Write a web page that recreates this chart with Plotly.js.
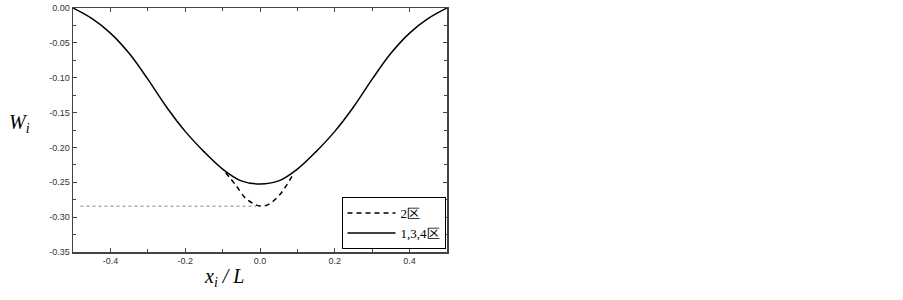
<!DOCTYPE html>
<html>
<head>
<meta charset="utf-8">
<script src="https://cdn.plot.ly/plotly-3.0.1.min.js"></script>
<style>body{margin:0;background:#fff}#chart{width:903px;height:300px}</style>
</head>
<body>
<div id="chart"></div>
<script>
// Solid curve (regions 1,3,4)
const solidX = [-0.5, -0.45, -0.4, -0.35, -0.3, -0.25, -0.2, -0.15, -0.1, -0.05, 0, 0.05, 0.1, 0.15, 0.2, 0.25, 0.3, 0.35, 0.4, 0.45, 0.5];
const solidW = [0, -0.015, -0.036, -0.065, -0.102, -0.142, -0.177, -0.206, -0.231, -0.248, -0.2524, -0.248, -0.231, -0.206, -0.177, -0.142, -0.102, -0.065, -0.036, -0.015, 0];
// Dashed curve (region 2)
const dashX = [-0.092, -0.065, -0.04, -0.02, 0, 0.022, 0.054, 0.088];
const dashW = [-0.236, -0.254, -0.272, -0.280, -0.284, -0.282, -0.267, -0.239];
// Dotted reference line
const dotX = [-0.48, -0.01];
const dotW = [-0.2843, -0.2843];
// Labels
const legendNames = ["2区", "1,3,4区"];
const xTickVals = [-0.4, -0.2, 0, 0.2, 0.4];
const xTickText = ["-0.4", "-0.2", "0.0", "0.2", "0.4"];
const yTickVals = [0, -0.05, -0.10, -0.15, -0.20, -0.25, -0.30, -0.35];
const yTickText = ["0.00", "-0.05", "-0.10", "-0.15", "-0.20", "-0.25", "-0.30", "-0.35"];

const traces = [
  {x: dotX, y: dotW, mode: 'lines', showlegend: false, hoverinfo: 'skip',
   line: {color: '#888', width: 1, dash: 'dot'}},
  {x: dashX, y: dashW, mode: 'lines', name: legendNames[0],
   line: {color: '#000', width: 1.5, dash: '5px,4px', shape: 'spline'}},
  {x: solidX, y: solidW, mode: 'lines', name: legendNames[1],
   line: {color: '#000', width: 1.5, shape: 'spline'}}
];

const tickFont = {family: 'Liberation Sans, Arial, sans-serif', size: 9, color: '#333'};
const layout = {
  width: 903, height: 300,
  margin: {l: 73, r: 456, t: 8.3, b: 47.5},
  paper_bgcolor: '#fff', plot_bgcolor: '#fff',
  showlegend: true,
  legend: {x: 0.996, y: 0.012, xanchor: 'right', yanchor: 'bottom',
    bordercolor: '#000', borderwidth: 1, bgcolor: '#fff',
    font: {family: 'Liberation Serif, Times New Roman, serif', size: 13, color: '#000'},
    itemwidth: 48, tracegroupgap: 0},
  xaxis: {range: [-0.5, 0.5], tickmode: 'array', tickvals: xTickVals, ticktext: xTickText,
    ticks: 'inside', ticklen: 4, tickcolor: '#444', tickwidth: 1,
    showline: true, linecolor: '#444', linewidth: 1.5, mirror: 'allticks',
    showgrid: false, zeroline: false, tickfont: tickFont,
    minor: {tickmode: 'linear', tick0: 0, dtick: 0.1, ticks: 'inside', ticklen: 3, tickcolor: '#444', showgrid: false}},
  yaxis: {range: [-0.35, 0], tickmode: 'array', tickvals: yTickVals, ticktext: yTickText,
    ticks: 'inside', ticklen: 4, tickcolor: '#444', tickwidth: 1,
    showline: true, linecolor: '#444', linewidth: 1.5, mirror: 'allticks',
    showgrid: false, zeroline: false, tickfont: tickFont,
    minor: {tickmode: 'linear', tick0: 0, dtick: 0.025, ticks: 'inside', ticklen: 3, tickcolor: '#444', showgrid: false}},
  annotations: [
    {xref: 'paper', yref: 'paper', x: -0.176, y: 0.526, xanchor: 'left', yanchor: 'middle',
     showarrow: false, text: '<i>W<sub>i</sub></i>',
     font: {family: 'Liberation Serif, Times New Roman, serif', size: 20, color: '#000'}},
    {xref: 'paper', yref: 'paper', x: 0.404, y: -0.104, xanchor: 'center', yanchor: 'middle',
     showarrow: false, text: '<i>x<sub>i</sub> / L</i>',
     font: {family: 'Liberation Serif, Times New Roman, serif', size: 20, color: '#000'}}
  ]
};
Plotly.newPlot('chart', traces, layout, {displayModeBar: false, staticPlot: true});
</script>
</body>
</html>
